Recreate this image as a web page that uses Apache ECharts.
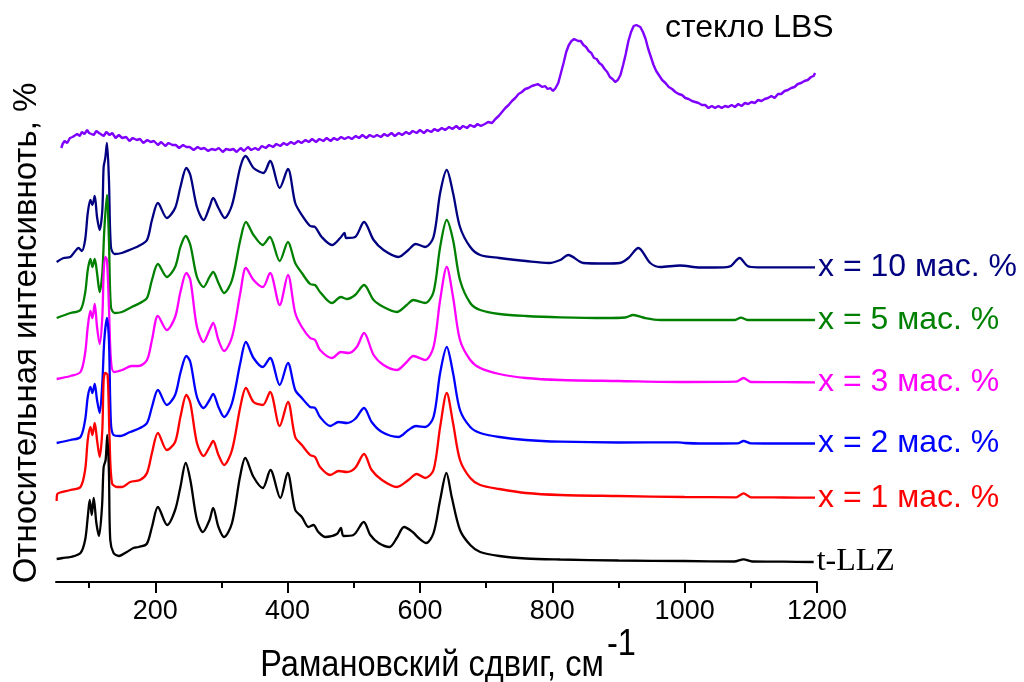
<!DOCTYPE html>
<html>
<head>
<meta charset="utf-8">
<script src="https://cdn.jsdelivr.net/npm/echarts@6/dist/echarts.min.js"></script>
<style>
html,body{margin:0;padding:0;background:#fff;}
#chart{width:1024px;height:682px;}
</style>
</head>
<body>
<div id="chart"></div>
<script>
// Raman shift ticks
const majorTicks = [200, 400, 600, 800, 1000, 1200];
const minorTicks = [100, 300, 500, 700, 900, 1100];

// Series names / labels
const seriesNames = ['стекло LBS', 'x = 10 мас. %', 'x = 5 мас. %', 'x = 3 мас. %', 'x = 2 мас. %', 'x = 1 мас. %', 't-LLZ'];
const seriesColors = ['#7f00ff', '#000080', '#008000', '#ff00ff', '#0000ff', '#ff0000', '#000000'];

// [Raman shift (cm-1), relative intensity (offset stacked, arb. units)]
const glassLBS = [[58,434],[60,438],[63,441],[67,439],[71,444],[75,445],[78,443],[82,448],[86,446],[89,450],[93,448],[97,452],[100,449],[103,451],[107,447],[111,451],[115,449],[118,450],[122,446],[126,450],[131,447],[135,449],[140,444],[145,447],[150,444],[156,445],[161,441],[166,444],[172,442],[177,443],[182,439],[188,442],[193,440],[198,441],[204,437],[209,440],[215,436],[220,439],[226,437],[231,437],[236,434],[242,437],[247,435],[252,435],[258,432],[264,435],[269,433],[274,434],[280,431],[285,433],[291,432],[296,434],[302,430],[307,433],[313,432],[318,433],[323,430],[329,434],[334,431],[340,435],[345,432],[351,434],[356,432],[361,436],[367,434],[372,437],[378,435],[383,438],[389,436],[394,439],[399,437],[405,440],[410,438],[416,441],[421,439],[427,442],[432,440],[437,443],[443,440],[448,443],[454,441],[459,444],[465,441],[470,444],[475,442],[481,445],[486,443],[492,445],[497,443],[503,446],[508,444],[513,447],[519,444],[524,447],[530,445],[535,447],[541,445],[546,448],[551,446],[557,449],[562,446],[568,449],[573,447],[579,450],[584,448],[589,451],[595,449],[600,452],[606,449],[611,452],[617,450],[622,453],[627,451],[633,454],[638,452],[644,455],[649,453],[655,456],[660,453],[665,456],[671,454],[676,457],[682,455],[687,458],[692,456],[698,458],[703,460],[709,459],[714,463],[719,466],[724,470],[729,474],[734,477],[739,481],[744,484],[749,488],[754,490],[759,493],[764,494],[769,496],[774,497],[778,498],[781,496],[785,495],[789,496],[793,493],[797,494],[801,491],[805,494],[809,499],[813,509],[817,519],[821,530],[825,537],[829,541],[833,543],[836,544],[839,541],[843,541],[847,537],[851,535],[855,531],[859,529],[863,524],[867,523],[871,519],[875,517],[879,513],[883,510],[887,505],[891,503],[895,500],[899,502],[903,507],[907,517],[911,528],[915,541],[919,550],[923,556],[927,557],[930,558],[933,555],[937,550],[941,543],[945,533],[949,525],[953,517],[957,511],[961,507],[966,502],[971,499],[976,495],[981,493],[986,490],[991,488],[996,487],[1001,484],[1006,483],[1011,481],[1016,480],[1021,479],[1026,477],[1031,477],[1036,474],[1041,476],[1046,474],[1051,476],[1056,474],[1061,476],[1066,475],[1071,477],[1076,475],[1081,478],[1086,476],[1091,479],[1096,478],[1101,480],[1106,479],[1111,482],[1116,481],[1121,483],[1126,484],[1131,486],[1136,484],[1141,488],[1146,488],[1151,491],[1156,492],[1161,494],[1166,495],[1171,498],[1176,499],[1181,501],[1186,502],[1191,505],[1195,506],[1197,509]];

const x10 = [[51,320],[61.5,324],[71.5,325],[78,330],[84,334],[89,331],[94,342],[98,369],[102,382],[105,377],[108.5,386],[112,365],[116,352],[120,372],[122,415],[124.5,424],[127,439],[130,402],[133,335],[138.5,328],[149.5,329],[164.5,333],[175,336],[187.5,342],[195,362],[204,379],[217.5,364],[230,374],[238,395],[247,414],[253,407],[263,375],[273,362],[282,375],[287.5,384],[295.5,374],[305,364],[316,377],[328.5,415],[336.5,426],[348.5,414],[363.5,409],[373.5,421],[388,394],[400.5,413],[411.5,379],[421.5,367],[434,356],[441.5,355],[451.5,345],[467,337],[479.5,344],[486,349],[488.5,344],[502,345],[515.5,360],[530,342],[545,332],[567.5,325],[582.5,332],[593.5,338],[608,335],[620.5,345],[630.5,389],[640.5,412],[650,389],[660.5,355],[676,335],[691,327],[720,324],[760,321],[795,319],[812,322],[824,327],[847,319],[880,318.5],[902,319],[915,324],[930,334],[948,319],[963,315],[993,316.5],[1023,314.5],[1060,314.7],[1070,316],[1083,324],[1095,316],[1110,314.7],[1150,314.7],[1197,314.7]];

const x5 = [[51,264],[72,269],[87,272],[94,289],[98,312],[102,323],[105,315],[108.5,323],[112,309],[116,290],[120,309],[123,352],[127,387],[130,342],[133,275],[138.5,269],[149.5,270],[164.5,275],[177,279],[187.5,284],[195,302],[204,318],[217.5,305],[230,315],[238,335],[246,346],[253,337],[263,305],[273,295],[282,305],[287.5,310],[295.5,299],[304,289],[316,302],[328.5,342],[337,360],[348.5,347],[362.5,337],[373,345],[388,321],[400.5,340],[411.5,319],[421.5,309],[434,298],[441.5,297],[449,290],[467,279],[480.5,285],[489.5,283],[502,287],[515.5,297],[530,282],[545,275],[565,270],[580,277],[590,282],[608,279],[620.5,290],[630.5,335],[640.5,362],[650,342],[660.5,302],[676,279],[691,272],[720,268],[760,266],[812,264.7],[880,264],[910,264.5],[922.5,267],[940,264],[963,262],[1000,262],[1076,262],[1085,264.3],[1095,262],[1150,262],[1197,262]];

const x3 = [[51,203],[72,206],[87,210],[94,229],[98,255],[102,271],[105,264],[108.5,278],[112,255],[116,238],[120,265],[122,309],[124.5,325],[127,322],[130,275],[133,222],[137.5,210],[150,212],[164.5,216],[175,216],[187.5,222],[195,242],[204,266],[217.5,252],[230,265],[238,290],[247,309],[253,302],[263,255],[273,240],[282,252],[287.5,259],[295.5,242],[304,231],[316,245],[328.5,289],[337,314],[348.5,302],[362.5,295],[373.5,309],[388,277],[400.5,307],[411.5,269],[421.5,255],[434,244],[441.5,242],[449,232],[467,224],[480.5,230],[492,229],[504.5,235],[515.5,249],[530,227],[545,217],[565,212],[580,220],[590,226],[608,222],[620.5,235],[630.5,282],[640.5,315],[650,285],[660.5,242],[676,222],[691,214],[720,208],[760,204],[812,202],[900,201],[1000,200],[1078,200.3],[1089,204],[1100,200],[1150,199.8],[1197,199.7]];

const x2 = [[51,139],[72,142],[87,145],[94,162],[98,185],[102,195],[105,189],[108.5,198],[112,182],[116,169],[120,199],[123,242],[127,264],[130,242],[133,159],[137,147],[147,146],[162,150],[177,154],[187.5,159],[195,175],[204,192],[217.5,177],[230,187],[238,209],[247,226],[253,220],[263,185],[273,174],[282,182],[287.5,188],[295.5,175],[304,165],[316,179],[328.5,219],[337,240],[348.5,224],[362.5,215],[373.5,224],[388,197],[400.5,219],[411.5,192],[421.5,184],[434,175],[441.5,174],[449,165],[464.5,156],[477,160],[489.5,159],[502,163],[515.5,174],[527,160],[542.5,150],[567.5,145],[582.5,152],[594,156],[608,155],[620.5,165],[630.5,209],[640.5,235],[650,209],[660.5,172],[676,155],[691,149],[720,145],[760,142],[812,140.3],[900,139.5],[990,139.7],[1000,139],[1023,138.5],[1080,138.7],[1089,141],[1100,138.7],[1150,138.5],[1197,138.5]];

const x1 = [[51,81],[52,88],[72,92],[87,95],[94,112],[98,142],[102,155],[105,147],[108.5,159],[112,142],[116,125],[120,152],[122,202],[124.5,209],[128,207],[131,142],[134.5,99],[142,95],[150,95],[162,100],[177,102],[187.5,109],[195,129],[204,149],[217.5,132],[230,140],[238,165],[247,187],[253,179],[263,139],[273,126],[282,135],[287.5,141],[295.5,127],[304,117],[316,132],[328.5,175],[337,194],[348.5,180],[362.5,177],[373.5,190],[388,156],[400.5,180],[411.5,145],[421.5,137],[434,127],[441.5,125],[449,115],[464.5,107],[477,111],[489.5,110],[502,114],[515.5,128],[527,112],[542.5,102],[565,95],[582.5,102],[595,108],[608,104],[620.5,112],[630.5,155],[640.5,189],[650,159],[660.5,122],[676,104],[691,97],[720,93],[760,89],[812,87],[900,86],[1000,85],[1078,84.7],[1089,88.7],[1100,84.7],[1150,84.5],[1197,84.3]];

const tLLZ = [[51,23],[60,24],[72,25],[87,29],[94,42],[98,65],[101,82],[104,67],[107,84],[111,59],[115,46],[119.5,75],[122,115],[125,122],[127.5,147],[130,109],[132,42],[137,29],[145,26],[157,30],[167,34],[175,35],[187,38],[195,55],[204,75],[218,57],[230,72],[238,95],[246,119],[253,102],[263,62],[272,50],[282,62],[287.5,74],[295.5,55],[304,45],[316,59],[328,105],[336,124],[348.5,105],[362.5,94],[374,112],[389,84],[400,109],[411.5,72],[421.5,65],[431.5,55],[439,57],[446.5,50],[457,45],[474.5,48],[480.5,54],[484.5,46],[499.5,47],[515,60],[525,47],[537.5,39],[554,35],[565,44],[576,55],[589,50],[598,44],[609.5,39],[620.5,49],[630.5,82],[640,109],[648,85],[660.5,52],[676,37],[691,30],[720,26],[760,23.5],[812,22.5],[900,21.5],[1000,21],[1075,20.5],[1089,22.7],[1102,20.5],[1150,20.3],[1195,20]];

const allData = [glassLBS, x10, x5, x3, x2, x1, tLLZ];

const chart = echarts.init(document.getElementById('chart'), null, {renderer: 'canvas'});

const series = allData.map((d, i) => {
  const isGlass = i === 0;
  const isLLZ = i === 6;
  return {
    name: seriesNames[i],
    type: 'line',
    data: d,
    showSymbol: false,
    smooth: isGlass ? false : 0.3,
    lineStyle: {color: seriesColors[i], width: isGlass ? 2.4 : 2.3},
    itemStyle: {color: seriesColors[i]},
    endLabel: isGlass ? {show: false} : {
      show: true,
      formatter: seriesNames[i],
      color: seriesColors[i],
      fontSize: 32,
      fontFamily: isLLZ ? 'Liberation Serif' : 'Liberation Sans',
      distance: 3
    },
    z: 2
  };
});

const option = {
  animation: false,
  backgroundColor: '#ffffff',
  grid: {left: 56, right: 207, top: 0, bottom: 100, containLabel: false},
  xAxis: [{
    type: 'value', min: 50, max: 1200,
    axisLine: {show: true, lineStyle: {color: '#000', width: 2}},
    axisTick: {show: true, customValues: majorTicks, length: 11, lineStyle: {color: '#000', width: 2}},
    axisLabel: {show: true, customValues: majorTicks, formatter: v => String(v), color: '#000', fontSize: 27, fontFamily: 'Liberation Sans', margin: 16},
    splitLine: {show: false}
  }, {
    type: 'value', min: 50, max: 1200, position: 'bottom',
    axisLine: {show: false},
    axisTick: {show: true, customValues: minorTicks, length: 6, lineStyle: {color: '#000', width: 2}},
    axisLabel: {show: false},
    splitLine: {show: false}
  }],
  yAxis: {
    type: 'value', min: 0, max: 582,
    axisLine: {show: false}, axisTick: {show: false}, axisLabel: {show: false}, splitLine: {show: false}
  },
  series: series,
  graphic: [
    {type: 'text', left: 665, top: 12, style: {text: 'стекло LBS', fill: '#000', font: '32px "Liberation Sans"'}},
    {type: 'text', x: 27, y: 333, rotation: Math.PI / 2, style: {text: 'Относительная интенсивноть, %', fill: '#000', font: '33px "Liberation Sans"', align: 'center', verticalAlign: 'middle'}},
    {type: 'text', x: 432, y: 666, scaleX: 0.88, style: {text: 'Рамановский сдвиг, см', fill: '#000', font: '37px "Liberation Sans"', align: 'center', verticalAlign: 'middle'}},
    {type: 'text', x: 607, y: 645, scaleX: 0.88, style: {text: '-1', fill: '#000', font: '37px "Liberation Sans"', align: 'left', verticalAlign: 'middle'}}
  ]
};
chart.setOption(option);
</script>
</body>
</html>
